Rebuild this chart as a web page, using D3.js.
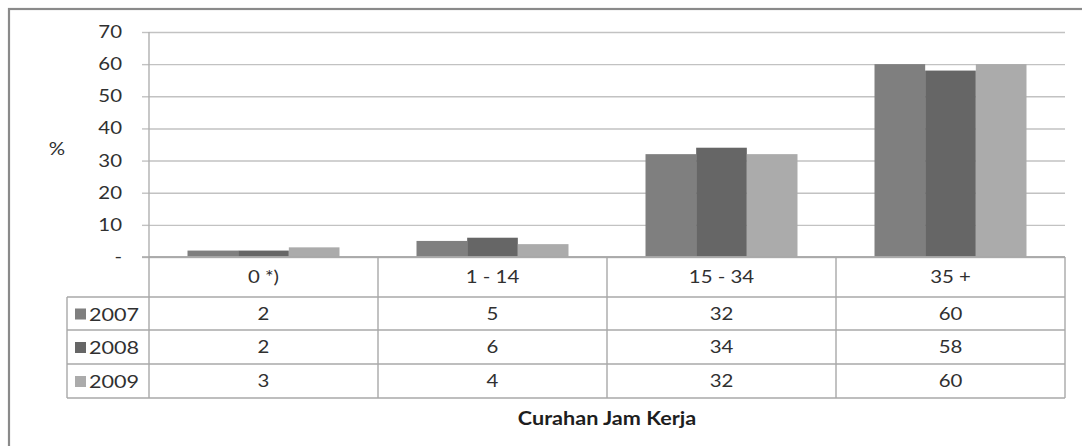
<!DOCTYPE html>
<html>
<head>
<meta charset="utf-8">
<script src="https://cdn.jsdelivr.net/npm/d3@7"></script>
<style>
  html, body { margin: 0; padding: 0; background: #fff; }
  svg { display: block; font-family: Lato, "Open Sans", sans-serif; }
</style>
</head>
<body>
<svg id="chart" width="1082" height="446"></svg>
<script>
// Categories of working hours per week and share of workers (%) per year
const categories = ["0 *)", "1 - 14", "15 - 34", "35 +"];
const years = ["2007", "2008", "2009"];
const values2007 = [2, 5, 32, 60];
const values2008 = [2, 6, 34, 58];
const values2009 = [3, 4, 32, 60];
const yTicks = [0, 10, 20, 30, 40, 50, 60, 70];
const yTickLabels = ["-", "10", "20", "30", "40", "50", "60", "70"];
const axisTitle = "Curahan Jam Kerja";
const yLabel = "%";

const seriesValues = [values2007, values2008, values2009];
const colors = ["#7f7f7f", "#666666", "#ababab"];
const textColor = "#303030";
const stretch = 1.2; // horizontal widening of the labels

const svg = d3.select("#chart");

// places a widened text label at (x, y)
function label(parent, x, y, str, opts = {}) {
  return parent.append("text")
    .attr("transform", `translate(${x},${y}) scale(${stretch},1)`)
    .attr("text-anchor", opts.anchor || "middle")
    .attr("font-size", opts.size || 17)
    .attr("font-weight", opts.weight || "normal")
    .attr("fill", opts.fill || textColor)
    .text(str);
}

// outer chart frame (top and left edges visible)
svg.append("rect")
  .attr("x", 9).attr("y", 9).attr("width", 1090).attr("height", 460)
  .attr("fill", "none").attr("stroke", "#8a8a8a").attr("stroke-width", 2.2);

const plotLeft = 149, plotRight = 1065, plotTop = 32, plotBottom = 257;

const x = d3.scaleBand().domain(categories).range([plotLeft, plotRight]);
const xInner = d3.scaleBand().domain(years).range([0, x.bandwidth()]).paddingInner(0).paddingOuter(0.76);
const y = d3.scaleLinear().domain([0, 70]).range([plotBottom, plotTop]);

// gridlines with short outer tick marks
const yAxis = d3.axisLeft(y)
  .tickValues(yTicks)
  .tickSize(-(plotRight - plotLeft))
  .tickFormat("");
const gAxis = svg.append("g").attr("transform", `translate(${plotLeft},0)`).call(yAxis);
gAxis.select(".domain").remove();
gAxis.selectAll(".tick line").attr("stroke", "#c2c2c2").attr("stroke-width", 1.4);
gAxis.selectAll(".tick").append("line")
  .attr("x1", -7).attr("x2", 0).attr("stroke", "#c2c2c2").attr("stroke-width", 1.4);

// tick labels
yTicks.forEach((t, i) => {
  label(svg, 122, y(t) + 6, yTickLabels[i], { anchor: "end" });
});

// vertical axis line
svg.append("line")
  .attr("x1", plotLeft).attr("x2", plotLeft)
  .attr("y1", plotTop).attr("y2", plotBottom)
  .attr("stroke", "#b0b0b0").attr("stroke-width", 1.4);

// bars
years.forEach((yr, si) => {
  svg.append("g").selectAll("rect")
    .data(categories.map((c, ci) => ({ c, v: seriesValues[si][ci] })))
    .join("rect")
    .attr("x", d => x(d.c) + xInner(yr))
    .attr("width", xInner.bandwidth())
    .attr("y", d => y(d.v))
    .attr("height", d => y(0) - y(d.v))
    .attr("fill", colors[si]);
});

// baseline
svg.append("line")
  .attr("x1", plotLeft - 7).attr("x2", plotRight)
  .attr("y1", plotBottom).attr("y2", plotBottom)
  .attr("stroke", "#a8a8a8").attr("stroke-width", 1.4);

// y label
label(svg, 57, 155, yLabel);

// data table
const rowTops = [257, 297, 330, 364, 398];
const tableLeft = 67;
const lineColor = "#a8a8a8";
const table = svg.append("g");

// horizontal row lines
rowTops.forEach((ry, i) => {
  table.append("line")
    .attr("x1", i === 0 ? plotLeft : tableLeft).attr("x2", plotRight)
    .attr("y1", ry).attr("y2", ry)
    .attr("stroke", lineColor).attr("stroke-width", 1.4);
});
// vertical column lines
categories.forEach(c => {
  table.append("line")
    .attr("x1", x(c)).attr("x2", x(c))
    .attr("y1", rowTops[0]).attr("y2", rowTops[4])
    .attr("stroke", lineColor).attr("stroke-width", 1.4);
});
table.append("line")
  .attr("x1", plotRight).attr("x2", plotRight)
  .attr("y1", rowTops[0]).attr("y2", rowTops[4])
  .attr("stroke", lineColor).attr("stroke-width", 1.4);
table.append("line")
  .attr("x1", tableLeft).attr("x2", tableLeft)
  .attr("y1", rowTops[1]).attr("y2", rowTops[4])
  .attr("stroke", lineColor).attr("stroke-width", 1.4);

// category header row
categories.forEach(c => {
  label(table, x(c) + x.bandwidth() / 2, (rowTops[0] + rowTops[1]) / 2 + 6, c);
});

// series rows with legend keys
years.forEach((yr, si) => {
  const cy = (rowTops[si + 1] + rowTops[si + 2]) / 2;
  table.append("rect")
    .attr("x", 75).attr("y", cy - 5).attr("width", 11).attr("height", 11)
    .attr("fill", colors[si]);
  label(table, 89, cy + 7, yr, { anchor: "start", size: 18 });
  categories.forEach((c, ci) => {
    label(table, x(c) + x.bandwidth() / 2, cy + 6, seriesValues[si][ci]);
  });
});

// axis title
label(svg, (plotLeft + plotRight) / 2, 425, axisTitle, { size: 18, weight: "bold", fill: "#1e1e1e" });
</script>
</body>
</html>
